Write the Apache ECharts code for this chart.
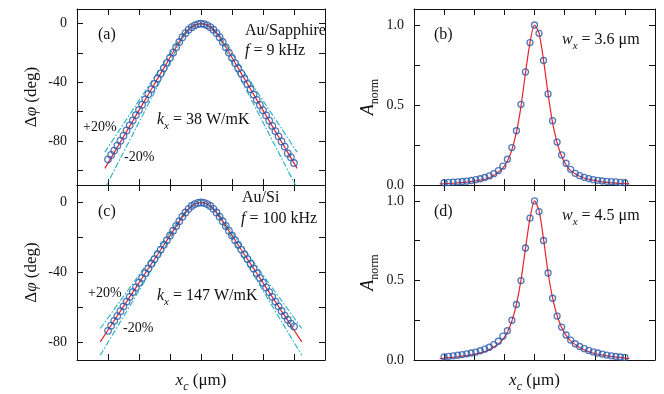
<!DOCTYPE html>
<html>
<head>
<meta charset="utf-8">
<script src="https://cdn.jsdelivr.net/npm/echarts@6/dist/echarts.min.js"></script>
<style>
  html, body { margin: 0; padding: 0; background: #fff; }
  #chart { width: 664px; height: 394px; }
</style>
</head>
<body>
<div id="chart"></div>
<script>
// ---- data ----
// phase panels (a), (c): measured points every 0.1 um
const xPhase = [-3.0, -2.9, -2.8, -2.7, -2.6, -2.5, -2.4, -2.3, -2.2, -2.1, -2.0, -1.9, -1.8, -1.7, -1.6, -1.5, -1.4, -1.3, -1.2, -1.1, -1.0, -0.9, -0.8, -0.7, -0.6, -0.5, -0.4, -0.3, -0.2, -0.1,
  0, 0.1, 0.2, 0.3, 0.4, 0.5, 0.6, 0.7, 0.8, 0.9, 1.0, 1.1, 1.2, 1.3, 1.4, 1.5, 1.6, 1.7, 1.8, 1.9, 2.0, 2.1, 2.2, 2.3, 2.4, 2.5, 2.6, 2.7, 2.8, 2.9, 3.0];
const phaseA = [-92.5, -89.5, -86.5, -83.2, -79.8, -76.4, -72.8, -69.3, -65.9, -62.3, -58.8, -55.2, -51.6, -48.1, -44.6, -41.0, -37.4, -33.9, -30.3, -26.8, -23.3, -19.8, -16.0, -12.5, -9.2, -6.4, -4.1, -2.4, -1.1, -0.3,
  0, -0.3, -1.1, -2.4, -4.1, -6.4, -9.2, -12.5, -16.1, -19.7, -23.3, -26.9, -30.4, -34.0, -37.6, -41.1, -44.7, -48.3, -51.9, -55.4, -59.0, -62.5, -66.1, -69.7, -73.2, -76.8, -80.3, -83.8, -88.5, -91.0, -95.0];
const phaseC = [-73.3, -70.4, -67.6, -64.9, -62.1, -59.3, -56.6, -53.9, -51.2, -48.5, -45.8, -43.1, -40.4, -37.7, -35.0, -32.3, -29.6, -26.9, -24.2, -21.5, -18.8, -16.1, -13.4, -10.7, -8.1, -5.7, -3.6, -2.0, -0.9, -0.2,
  0, -0.2, -0.9, -2.0, -3.6, -5.7, -8.1, -10.7, -13.4, -16.1, -18.8, -21.5, -24.2, -26.9, -29.6, -32.3, -35.0, -37.7, -40.4, -43.1, -45.8, -48.5, -51.2, -53.9, -56.6, -59.3, -62.0, -64.6, -67.0, -69.2, -70.9];

// fit curves for phase
const xFitA = [-3.1, -2.6, -2.1, -1.6, -1.2, -0.9, -0.7, -0.5, -0.35, -0.2, -0.1, 0, 0.1, 0.2, 0.35, 0.5, 0.7, 0.9, 1.2, 1.6, 2.1, 2.6, 3.1];
const fitA = [-98.7, -80.7, -62.7, -44.7, -30.3, -19.5, -12.3, -6.3, -3.1, -1.0, -0.3, 0, -0.3, -1.0, -3.1, -6.3, -12.3, -19.5, -30.3, -44.7, -62.7, -80.7, -98.7];
const plusA = [-87.6, -71.6, -55.6, -39.6, -26.8, -17.2, -10.8, -5.5, -2.7, -0.9, -0.2, 0, -0.2, -0.9, -2.7, -5.5, -10.8, -17.2, -26.8, -39.6, -55.6, -71.6, -87.6];
const minusA = [-112.3, -91.8, -71.3, -50.8, -34.4, -22.1, -13.9, -7.2, -3.6, -1.2, -0.35, 0, -0.35, -1.2, -3.6, -7.2, -13.9, -22.1, -34.4, -50.8, -71.3, -91.8, -112.3];

const xFitC = [-3.25, -2.6, -2.1, -1.6, -1.2, -0.9, -0.7, -0.5, -0.35, -0.2, -0.1, 0, 0.1, 0.2, 0.35, 0.5, 0.7, 0.9, 1.2, 1.6, 2.1, 2.6, 3.25];
const fitC = [-79.6, -62.1, -48.6, -35.1, -24.3, -16.2, -10.8, -5.6, -2.8, -0.9, -0.2, 0, -0.2, -0.9, -2.8, -5.6, -10.8, -16.2, -24.3, -35.1, -48.6, -62.1, -79.6];
const plusC = [-72.0, -56.1, -43.9, -31.7, -22.0, -14.7, -9.8, -5.0, -2.5, -0.8, -0.2, 0, -0.2, -0.8, -2.5, -5.0, -9.8, -14.7, -22.0, -31.7, -43.9, -56.1, -72.0];
const minusC = [-87.3, -68.1, -53.3, -38.5, -26.6, -17.7, -11.8, -6.2, -3.1, -1.0, -0.25, 0, -0.25, -1.0, -3.1, -6.2, -11.8, -17.7, -26.6, -38.5, -53.3, -68.1, -87.3];

// amplitude panels (b), (d): points every 0.15 um
const xAmp = [-3.0, -2.85, -2.7, -2.55, -2.4, -2.25, -2.1, -1.95, -1.8, -1.65, -1.5, -1.35, -1.2, -1.05, -0.9, -0.75, -0.6, -0.45, -0.3, -0.15,
  0, 0.15, 0.3, 0.45, 0.6, 0.75, 0.9, 1.05, 1.2, 1.35, 1.5, 1.65, 1.8, 1.95, 2.1, 2.25, 2.4, 2.55, 2.7, 2.85, 3.0];
const ampB = [0.014, 0.016, 0.018, 0.020, 0.022, 0.024, 0.028, 0.033, 0.039, 0.047, 0.057, 0.071, 0.090, 0.118, 0.161, 0.234, 0.339, 0.504, 0.707, 0.890,
  1.000, 0.948, 0.778, 0.569, 0.402, 0.268, 0.188, 0.136, 0.098, 0.073, 0.058, 0.048, 0.040, 0.033, 0.029, 0.025, 0.023, 0.021, 0.019, 0.017, 0.014];
const ampD = [0.020, 0.023, 0.026, 0.030, 0.034, 0.039, 0.044, 0.050, 0.058, 0.068, 0.080, 0.097, 0.118, 0.150, 0.184, 0.250, 0.349, 0.499, 0.704, 0.892,
  1.000, 0.933, 0.751, 0.547, 0.388, 0.276, 0.207, 0.157, 0.125, 0.102, 0.085, 0.071, 0.060, 0.051, 0.044, 0.037, 0.031, 0.026, 0.022, 0.019, 0.016];

const xFitAmp = [-3.15, -2.7, -2.25, -1.8, -1.5, -1.2, -1.05, -0.9, -0.75, -0.6, -0.45, -0.3, -0.15, 0, 0.15, 0.3, 0.45, 0.6, 0.75, 0.9, 1.05, 1.2, 1.5, 1.8, 2.25, 2.7, 3.15];
const fitB = [0.007, 0.011, 0.018, 0.030, 0.045, 0.080, 0.105, 0.150, 0.220, 0.330, 0.490, 0.700, 0.890, 1.000, 0.950, 0.780, 0.570, 0.390, 0.265, 0.180, 0.125, 0.090, 0.055, 0.035, 0.020, 0.012, 0.007];
const fitD = [0.008, 0.017, 0.027, 0.045, 0.065, 0.100, 0.130, 0.175, 0.245, 0.350, 0.500, 0.700, 0.890, 1.000, 0.940, 0.760, 0.550, 0.390, 0.280, 0.205, 0.155, 0.120, 0.078, 0.052, 0.031, 0.018, 0.009];

// ticks
const xTicks = [-3, -2, -1, 0, 1, 2, 3];
const phaseTicksA = [-100, -80, -60, -40, -20, 0];
const phaseTicksC = [-80, -60, -40, -20, 0];
const phaseLabels = [-80, -40, 0];
const ampTicks = [0, 0.25, 0.5, 0.75, 1.0];
const ampLabels = [0, 0.5, 1.0];

const FONT = "'Liberation Serif', 'Times New Roman', serif";
const BLUE = '#2b59a8';
const RED = '#e8232b';
const CYAN = '#2cb4c4';
const INK = '#111';

const pairs = (xs, ys) => xs.map((x, i) => [x, ys[i]]);

const grids = [
  { left: 77, top: 9, width: 248, height: 176 },   // (a)
  { left: 414, top: 9, width: 241, height: 176 },  // (b)
  { left: 77, top: 185, width: 248, height: 176 }, // (c)
  { left: 414, top: 185, width: 241, height: 176 } // (d)
];
const yRange = [[-110, 10], [0, 1.1], [-90, 10], [0, 1.1]];
const yTicks = [phaseTicksA, ampTicks, phaseTicksC, ampTicks];
const yLabels = [phaseLabels, ampLabels, phaseLabels, ampLabels];

const axisLine = { show: true, onZero: false, lineStyle: { color: INK, width: 1 } };

const xAxes = [];
const yAxes = [];
grids.forEach((g, i) => {
  const bottomName = i >= 2 ? {
    name: '{i|x}{s|c}{n| (μm)}',
    nameLocation: 'middle',
    nameGap: 12,
    nameTextStyle: {
      fontFamily: FONT, fontSize: 17, color: INK,
      rich: {
        i: { fontFamily: FONT, fontSize: 17, fontStyle: 'italic', color: INK },
        s: { fontFamily: FONT, fontSize: 12, fontStyle: 'italic', color: INK, verticalAlign: 'bottom', padding: [0, 0, -4, 0] },
        n: { fontFamily: FONT, fontSize: 17, color: INK }
      }
    }
  } : {};
  ['bottom', 'top'].forEach(pos => {
    xAxes.push(Object.assign({
      gridIndex: i, type: 'value', position: pos, min: -4, max: 4,
      axisLine: axisLine,
      axisTick: { show: true, inside: true, length: 6, customValues: xTicks, lineStyle: { color: INK } },
      axisLabel: { show: false },
      splitLine: { show: false }
    }, pos === 'bottom' ? bottomName : {}));
  });
  const isAmp = i % 2 === 1;
  const leftName = isAmp ? {
    name: '{a|A}{s|norm}',
    nameTextStyle: {
      fontFamily: FONT, fontSize: 18, color: INK,
      rich: {
        a: { fontFamily: FONT, fontSize: 18, fontStyle: 'italic', color: INK },
        s: { fontFamily: FONT, fontSize: 12, color: INK, verticalAlign: 'bottom', padding: [0, 0, -4, 0] }
      }
    }
  } : {
    name: '{d|Δ}{p|φ}{d| (deg)}',
    nameTextStyle: {
      fontFamily: FONT, fontSize: 17, color: INK,
      rich: {
        d: { fontFamily: FONT, fontSize: 17, color: INK },
        p: { fontFamily: FONT, fontSize: 17, fontStyle: 'italic', color: INK }
      }
    }
  };
  ['left', 'right'].forEach(pos => {
    yAxes.push(Object.assign({
      gridIndex: i, type: 'value', position: pos,
      min: yRange[i][0], max: yRange[i][1],
      axisLine: axisLine,
      axisTick: { show: true, inside: true, length: 6, customValues: yTicks[i], lineStyle: { color: INK } },
      axisLabel: pos === 'left' ? {
        show: true, customValues: yLabels[i], margin: 10,
        fontFamily: FONT, fontSize: 14, color: INK,
        formatter: v => isAmp ? Number(v).toFixed(1) : String(v)
      } : { show: false },
      splitLine: { show: false }
    }, pos === 'left' ? Object.assign({ nameLocation: 'middle', nameRotate: 90, nameGap: 37 }, leftName) : {}));
  });
});

const lineSeries = (g, xs, ys, color, dashed) => ({
  type: 'line', xAxisIndex: g * 2, yAxisIndex: g * 2,
  data: pairs(xs, ys), showSymbol: false, smooth: 0.25, clip: true,
  lineStyle: { color: color, width: 1.2, type: dashed ? [6, 2, 1.5, 2] : 'solid' },
  z: 2
});
const dots = (g, xs, ys, size) => ({
  type: 'scatter', xAxisIndex: g * 2, yAxisIndex: g * 2,
  data: pairs(xs, ys), symbol: 'circle', symbolSize: size,
  itemStyle: { color: 'rgba(0,0,0,0)', borderColor: BLUE, borderWidth: 1.3 },
  z: 3
});

const series = [
  lineSeries(0, xFitA, plusA, CYAN, true),
  lineSeries(0, xFitA, minusA, CYAN, true),
  dots(0, xPhase, phaseA, 6.5),
  lineSeries(0, xFitA, fitA, RED, false),
  dots(1, xAmp, ampB, 6),
  lineSeries(1, xFitAmp, fitB, RED, false),
  lineSeries(2, xFitC, plusC, CYAN, true),
  lineSeries(2, xFitC, minusC, CYAN, true),
  dots(2, xPhase, phaseC, 6.5),
  lineSeries(2, xFitC, fitC, RED, false),
  dots(3, xAmp, ampD, 6),
  lineSeries(3, xFitAmp, fitD, RED, false)
];

const richBase = {
  i: { fontFamily: FONT, fontSize: 16, fontStyle: 'italic', fill: INK, color: INK },
  s: { fontFamily: FONT, fontSize: 11, fontStyle: 'italic', fill: INK, color: INK, verticalAlign: 'bottom', padding: [0, 0, -4, 0] },
  n: { fontFamily: FONT, fontSize: 16, fill: INK, color: INK }
};
const txt = (x, y, text, size) => ({
  type: 'text', x: x, y: y, z: 10,
  style: {
    text: text, fontFamily: FONT, fontSize: size || 16, fill: INK,
    align: 'left', verticalAlign: 'middle', textAlign: 'left', textVerticalAlign: 'middle',
    rich: richBase
  }
});

const graphics = [
  txt(98, 35, '(a)'),
  txt(245, 31, 'Au/Sapphire'),
  txt(245, 51, '{i|f}{n| = 9 kHz}'),
  txt(157, 120, '{i|k}{s|x}{n| = 38 W/mK}'),
  txt(83, 127.5, '+20%', 14),
  txt(124, 157, '-20%', 14),
  txt(98, 212, '(c)'),
  txt(242, 198, 'Au/Si'),
  txt(241, 218.5, '{i|f}{n| = 100 kHz}'),
  txt(157, 296, '{i|k}{s|x}{n| = 147 W/mK}'),
  txt(88, 293, '+20%', 14),
  txt(123, 328, '-20%', 14),
  txt(434, 35, '(b)'),
  txt(562, 40, '{i|w}{s|x}{n| = 3.6 μm}'),
  txt(434, 212, '(d)'),
  txt(562, 216, '{i|w}{s|x}{n| = 4.5 μm}')
];

const chart = echarts.init(document.getElementById('chart'), null, { renderer: 'canvas' });
chart.setOption({
  animation: false,
  backgroundColor: '#fff',
  grid: grids,
  xAxis: xAxes,
  yAxis: yAxes,
  series: series,
  graphic: graphics
});
</script>
</body>
</html>
